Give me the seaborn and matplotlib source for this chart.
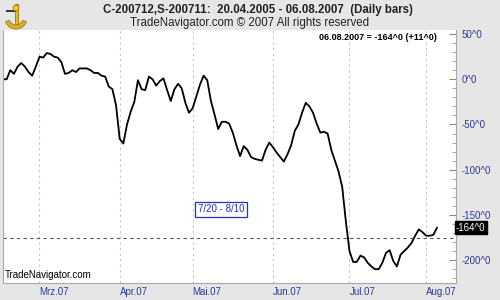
import matplotlib
matplotlib.use("Agg")
import matplotlib.pyplot as plt
import seaborn as sns
import pandas as pd
from matplotlib.ticker import MultipleLocator
from matplotlib.patches import Wedge, Rectangle, Circle

# ---- data ----
spread = [0, 0, 10, 6, 14, 18, 14, 8, 4, 14, 25, 24, 29, 28, 25, 24, 19, 6, 7, 10,
          8, 12, 12, 12, 10, 7, 7, 4, 3, -8, -11, -29, -66, -71, -50, -36, -25, -1, -11, -12,
          3, 0, -7, -2, 1, -12, -24, -11, -5, -10, -26, -37, -32, -19, -6, 4, -1, -24, -39, -55,
          -47, -47, -49, -59, -73, -85, -74, -78, -86, -88, -89, -90, -78, -70, -75, -81, -86, -91, -83, -73,
          -57, -50, -37, -26, -30, -37, -49, -59, -58, -60, -78, -90, -102, -119, -157, -190, -202, -202, -195, -197,
          -203, -207, -210, -210, -203, -192, -189, -201, -207, -194, -190, -186, -181, -173, -166, -169, -173, -173, -172, -164]
month_labels = ["Mrz.07", "Apr.07", "Mai.07", "Jun.07", "Jul.07", "Aug.07"]
month_start_idx = [10, 32, 52, 74, 95, 116]
ref_level = -176
last_value = -164
last_change = 11
title1 = "C-200712,S-200711:  20.04.2005 - 06.08.2007  (Daily bars)"
title2 = "TradeNavigator.com \u00a9 2007 All rights reserved"
period_label = "7/20 - 8/10"

sns.set_style("white")
plt.rcParams['font.family'] = ['Liberation Sans', 'DejaVu Sans']

W, H = 500, 300
fig = plt.figure(figsize=(5, 3), dpi=100, facecolor="#e6e6e6")
ax = fig.add_axes([3 / W, 17 / H, 453 / W, 253 / H])
ax.set_facecolor("white")

df = pd.DataFrame({"day": range(len(spread)), "spread": spread})
sns.lineplot(data=df, x="day", y="spread", ax=ax, color="black", lw=1.3)

ax.set_xlim(0, 124.2)

# y axis on right, inward ticks
ax.yaxis.tick_right()
yt = [50, 0, -50, -100, -150, -200]
ax.set_yticks(yt, [f"{t}^0" for t in yt])
ax.yaxis.set_minor_locator(MultipleLocator(10))
ax.set_ylim(-225.3, 54.5)
ax.tick_params(axis='y', which='major', direction='in', length=5, width=0.8,
               color='#888888', labelsize=7, labelcolor='#2a3a9a', pad=4)
ax.tick_params(axis='y', which='minor', direction='in', length=3, width=0.6,
               color='#999999', right=True)

# x axis month labels
ax.set_xticks(month_start_idx, month_labels)
for lab in ax.get_xticklabels():
    lab.set_horizontalalignment('left')
ax.tick_params(axis='x', length=0, labelsize=7, labelcolor='#2a3a9a', pad=3)
ax.set_xlabel("")
ax.set_ylabel("")

ax.grid(axis='x', color='#c4c4c4', linestyle=(0, (2, 3)), lw=0.8)
ax.grid(axis='y', visible=False)
ax.axhline(ref_level, color='#555555', linestyle=(0, (3, 3)), lw=0.8)

ax.spines['top'].set_visible(False)
for s in ['left', 'right', 'bottom']:
    ax.spines[s].set_color('#a8a8a8')
    ax.spines[s].set_linewidth(0.8)

# annotations
ax.text(1.0, last_value, f"{last_value}^0", transform=ax.get_yaxis_transform(),
        ha='left', va='center', fontsize=7, color='white',
        bbox=dict(boxstyle='square,pad=0.15', fc='black', ec='black'))
ax.text(0.958, 0.972, f"06.08.2007 = {last_value}^0 (+{last_change}^0)",
        transform=ax.transAxes, ha='right', va='center', fontsize=6.5,
        fontweight='bold', color='black')
ax.text(0.481, 0.292, period_label, transform=ax.transAxes, ha='center', va='center',
        fontsize=7, color='#2233bb',
        bbox=dict(boxstyle='square,pad=0.25', fc='white', ec='#2233bb', lw=0.9))
ax.text(0.004, 0.03, "TradeNavigator.com", transform=ax.transAxes, ha='left',
        va='center', fontsize=7, color='black')

fig.text(0.516, 1 - 10 / H, title1, ha='center', va='center', fontsize=8.3,
         fontweight='bold', color='#222222')
fig.text(0.499, 1 - 23 / H, title2, ha='center', va='center', fontsize=8.3,
         color='#222222')

# small golden logo (decoration) in the top-left corner
lax = fig.add_axes([2 / W, 1 - 30 / H, 28 / W, 28 / H])
lax.set_xlim(0, 28)
lax.set_ylim(0, 28)
lax.axis('off')
lax.add_patch(Wedge((14, 12), 11, 200, 340, width=4, fc='#e0b020', ec='#a07810', lw=0.6))
lax.add_patch(Rectangle((12.5, 6), 3, 20, fc='#e8b820', ec='#a07810', lw=0.6))
lax.add_patch(Rectangle((4, 18), 10, 2.5, fc='#3a3a3a', ec='none'))
lax.add_patch(Circle((14, 22), 3, fc='#f0c830', ec='#a07810', lw=0.6))

fig.savefig("out.png", dpi=100, facecolor=fig.get_facecolor())
